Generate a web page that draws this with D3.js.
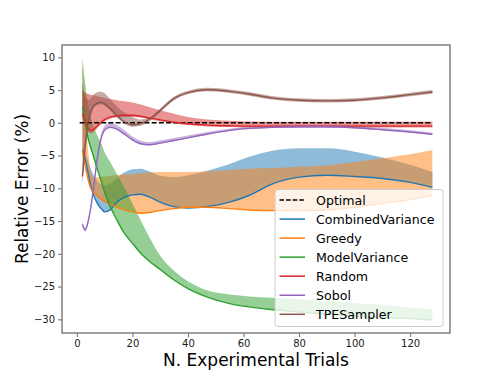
<!DOCTYPE html>
<html lang="en">

<head>
    <meta charset="utf-8">
    <title>relative error</title>
    <script src="https://cdn.jsdelivr.net/npm/d3@7/dist/d3.min.js"></script>
    <style>
        body {
            margin: 0;
        }

        text {
            font-family: "DejaVu Sans", sans-serif;
        }
    </style>
</head>

<body>
    <script type="text/javascript">
        var trials = [2, 3, 4, 5, 6, 7, 8, 9, 10, 12, 14, 17, 20, 23, 26, 30, 35, 40, 47, 55, 62, 70, 80, 90, 100, 110, 120, 128];

        var cvMean = [-4.2, -5.6, -7.6, -9.6, -11.0, -12.0, -12.7, -13.2, -13.6, -13.3, -12.3, -11.4, -11.0, -10.9, -11.3, -12.1, -12.8, -13.0, -12.8, -12.1, -11.1, -9.4, -8.3, -8.0, -8.2, -8.5, -9.1, -9.85];
        var cvHi = [-3.6, -4.5, -5.8, -7.0, -8.0, -8.7, -9.2, -9.4, -9.5, -9.3, -8.6, -7.6, -7.1, -7.0, -7.4, -8.1, -8.3, -8.0, -7.3, -6.3, -5.2, -4.3, -3.9, -3.9, -4.4, -5.3, -6.4, -7.5];

        var grMean = [-4.3, -6.5, -8.6, -10.0, -10.6, -11.0, -11.4, -11.7, -12.0, -12.4, -12.8, -13.3, -13.6, -13.8, -13.7, -13.4, -13.1, -12.9, -12.9, -13.1, -13.3, -13.4, -13.4, -13.3, -12.9, -12.3, -11.7, -11.1];
        var grHi = [9.7, 2.0, -4.0, -7.5, -8.3, -8.3, -8.3, -8.2, -8.2, -8.1, -8.0, -7.9, -7.8, -7.7, -7.6, -7.5, -7.5, -7.5, -7.4, -7.2, -7.0, -6.9, -6.7, -6.5, -6.0, -5.4, -4.8, -4.15];

        var mvMean = [2.4, 0.0, -2.3, -3.8, -5.1, -6.6, -7.9, -9.2, -10.6, -12.8, -14.5, -16.8, -18.4, -19.9, -21.1, -22.4, -24.0, -25.3, -26.6, -27.6, -28.1, -28.5, -28.9, -29.2, -29.5, -29.7, -29.9, -30.1];
        var mvHi = [9.9, 6.0, 3.0, 1.0, -0.5, -1.6, -2.5, -3.4, -4.5, -6.0, -7.5, -9.8, -12.3, -14.9, -17.4, -20.3, -22.6, -24.2, -25.6, -26.2, -26.5, -26.7, -26.9, -27.2, -27.5, -27.8, -28.2, -28.5];

        var rdMean = [1.4, 0.2, -0.8, -1.2, -1.0, -0.6, -0.2, 0.2, 0.5, 0.9, 1.05, 1.15, 1.15, 1.0, 0.75, 0.45, 0.1, -0.15, -0.35, -0.45, -0.5, -0.5, -0.5, -0.5, -0.5, -0.5, -0.5, -0.5];
        var rdLo = [0.8, -0.4, -1.3, -1.6, -1.4, -1.0, -0.5, -0.1, 0.2, 0.6, 0.8, 0.9, 0.9, 0.8, 0.55, 0.25, -0.1, -0.35, -0.55, -0.65, -0.7, -0.7, -0.7, -0.7, -0.7, -0.7, -0.7, -0.7];
        var rdHi = [5.0, 4.6, 4.4, 4.3, 4.2, 4.1, 4.0, 3.9, 3.8, 3.65, 3.5, 3.3, 3.1, 2.8, 2.4, 1.9, 1.4, 0.9, 0.5, 0.3, 0.2, 0.15, 0.15, 0.15, 0.15, 0.15, 0.15, 0.2];

        var sbMean = [-15.5, -16.4, -15.2, -13.0, -10.0, -6.6, -3.8, -2.0, -1.1, -0.7, -0.9, -1.7, -2.6, -3.2, -3.35, -3.1, -2.7, -2.3, -1.7, -1.15, -0.85, -0.7, -0.6, -0.6, -0.75, -1.05, -1.4, -1.75];
        var sbLo = [-15.7, -16.6, -15.4, -13.2, -10.2, -6.8, -4.0, -2.1, -1.2, -0.8, -1.0, -1.8, -2.7, -3.3, -3.45, -3.2, -2.8, -2.4, -1.8, -1.25, -0.95, -0.8, -0.7, -0.7, -0.85, -1.15, -1.5, -1.85];
        var sbHi = [-15.1, -16.0, -14.8, -12.6, -9.6, -6.1, -3.2, -1.4, -0.5, 0.0, -0.3, -1.1, -2.1, -2.75, -2.95, -2.7, -2.3, -1.95, -1.4, -0.9, -0.6, -0.45, -0.35, -0.35, -0.5, -0.8, -1.15, -1.5];

        var tpMean = [-8.2, -3.5, 0.0, 1.7, 2.6, 2.9, 3.1, 3.1, 2.9, 2.2, 1.3, 0.2, -0.3, -0.1, 0.5, 1.9, 3.7, 4.6, 5.05, 4.8, 4.4, 3.8, 3.45, 3.35, 3.45, 3.8, 4.3, 4.7];
        var tpLo = [-9.5, -5.0, -1.2, 1.0, 2.2, 2.6, 2.8, 2.8, 2.6, 1.9, 1.0, -0.1, -0.6, -0.45, 0.2, 1.6, 3.45, 4.35, 4.8, 4.55, 4.15, 3.55, 3.2, 3.1, 3.2, 3.55, 4.05, 4.45];
        var tpHi = [6.0, 4.0, 3.5, 3.8, 4.3, 4.6, 4.75, 4.7, 4.5, 3.6, 2.7, 1.6, 0.9, 0.5, 0.8, 2.2, 4.0, 4.9, 5.35, 5.1, 4.7, 4.1, 3.75, 3.65, 3.75, 4.1, 4.6, 5.0];

        var optimalX = [1, 128];
        var xTicks = [0, 20, 40, 60, 80, 100, 120];
        var yTicks = [-30, -25, -20, -15, -10, -5, 0, 5, 10];

        var series = [
            { name: 'CombinedVariance', color: '#1f77b4', mean: cvMean, lo: cvMean, hi: cvHi },
            { name: 'Greedy', color: '#ff7f0e', mean: grMean, lo: grMean, hi: grHi },
            { name: 'ModelVariance', color: '#2ca02c', mean: mvMean, lo: mvMean, hi: mvHi },
            { name: 'Random', color: '#d62728', mean: rdMean, lo: rdLo, hi: rdHi },
            { name: 'Sobol', color: '#9467bd', mean: sbMean, lo: sbLo, hi: sbHi },
            { name: 'TPESampler', color: '#8c564b', mean: tpMean, lo: tpLo, hi: tpHi }
        ];

        var svgWidth = 500, svgHeight = 375;
        var plotLeft = 62, plotRight = 450, plotTop = 45, plotBottom = 333;

        var svg = d3.select('body')
            .append('svg')
            .attr('width', svgWidth)
            .attr('height', svgHeight);

        var x = d3.scaleLinear().domain([-5.35, 134.35]).range([plotLeft, plotRight]);
        var y = d3.scaleLinear().domain([-32.09, 11.88]).range([plotBottom, plotTop]);

        function rowsOf(s) {
            return trials.map(function (t, i) {
                return { t: t, m: s.mean[i], lo: s.lo[i], hi: s.hi[i] };
            });
        }

        function drawBands() {
            var area = d3.area()
                .x(function (d) { return x(d.t); })
                .y0(function (d) { return y(d.lo); })
                .y1(function (d) { return y(d.hi); })
                .curve(d3.curveMonotoneX);
            svg.append('g').selectAll('path')
                .data(series)
                .enter().append('path')
                .attr('d', function (s) { return area(rowsOf(s)); })
                .attr('fill', function (s) { return s.color; })
                .attr('fill-opacity', 0.5);
        }

        function drawLines() {
            svg.append('line')
                .attr('x1', x(optimalX[0])).attr('x2', x(optimalX[1]))
                .attr('y1', y(0)).attr('y2', y(0))
                .attr('stroke', '#000')
                .attr('stroke-width', 1.4)
                .attr('stroke-dasharray', '5,2.2');

            var line = d3.line()
                .x(function (d) { return x(d.t); })
                .y(function (d) { return y(d.m); })
                .curve(d3.curveMonotoneX);
            svg.append('g').selectAll('path')
                .data(series)
                .enter().append('path')
                .attr('d', function (s) { return line(rowsOf(s)); })
                .attr('fill', 'none')
                .attr('stroke', function (s) { return s.color; })
                .attr('stroke-width', 1.4);
        }

        function drawAxes() {
            var gx = svg.append('g')
                .attr('transform', 'translate(0,' + plotBottom + ')')
                .call(d3.axisBottom(x).tickValues(xTicks).tickSize(4).tickPadding(3).tickSizeOuter(0));
            var gy = svg.append('g')
                .attr('transform', 'translate(' + plotLeft + ',0)')
                .call(d3.axisLeft(y).tickValues(yTicks).tickSize(4).tickPadding(3).tickSizeOuter(0));
            [gx, gy].forEach(function (g) {
                g.select('.domain').remove();
                g.selectAll('.tick line').attr('stroke', '#808080').attr('stroke-width', 1.2);
                g.selectAll('.tick text')
                    .attr('fill', '#1a1a1a')
                    .style('font-size', '10px')
                    .style('font-family', '"DejaVu Sans", sans-serif');
            });

            svg.append('rect')
                .attr('x', plotLeft).attr('y', plotTop)
                .attr('width', plotRight - plotLeft).attr('height', plotBottom - plotTop)
                .attr('fill', 'none')
                .attr('stroke', '#808080')
                .attr('stroke-width', 1.5);

            svg.append('text')
                .attr('x', (plotLeft + plotRight) / 2)
                .attr('y', 366)
                .attr('text-anchor', 'middle')
                .style('font-size', '17px')
                .text('N. Experimental Trials');

            svg.append('text')
                .attr('transform', 'translate(28,' + (plotTop + plotBottom) / 2 + ') rotate(-90)')
                .attr('text-anchor', 'middle')
                .style('font-size', '17px')
                .text('Relative Error (%)');
        }

        function drawLegend() {
            var items = [{ name: 'Optimal', color: '#000', dash: true }].concat(series);
            var g = svg.append('g');
            g.append('rect')
                .attr('x', 275).attr('y', 189.5)
                .attr('width', 168).attr('height', 137)
                .attr('rx', 3)
                .attr('fill', '#fff')
                .attr('fill-opacity', 0.8)
                .attr('stroke', '#cccccc')
                .attr('stroke-width', 1);
            var row = g.selectAll('g.item')
                .data(items)
                .enter().append('g')
                .attr('class', 'item')
                .attr('transform', (d, i) => 'translate(0,' + (200 + i * 19.05) + ')');
            row.append('line')
                .attr('x1', 279.5).attr('x2', 305)
                .attr('stroke', d => d.color)
                .attr('stroke-width', 1.5)
                .attr('stroke-dasharray', d => d.dash ? '4.6,2' : null);
            row.append('text')
                .attr('x', 316)
                .attr('dy', '0.36em')
                .style('font-size', '12.6px')
                .text(d => d.name);
        }

        drawBands();
        drawLines();
        drawAxes();
        drawLegend();
    </script>
</body>

</html>
